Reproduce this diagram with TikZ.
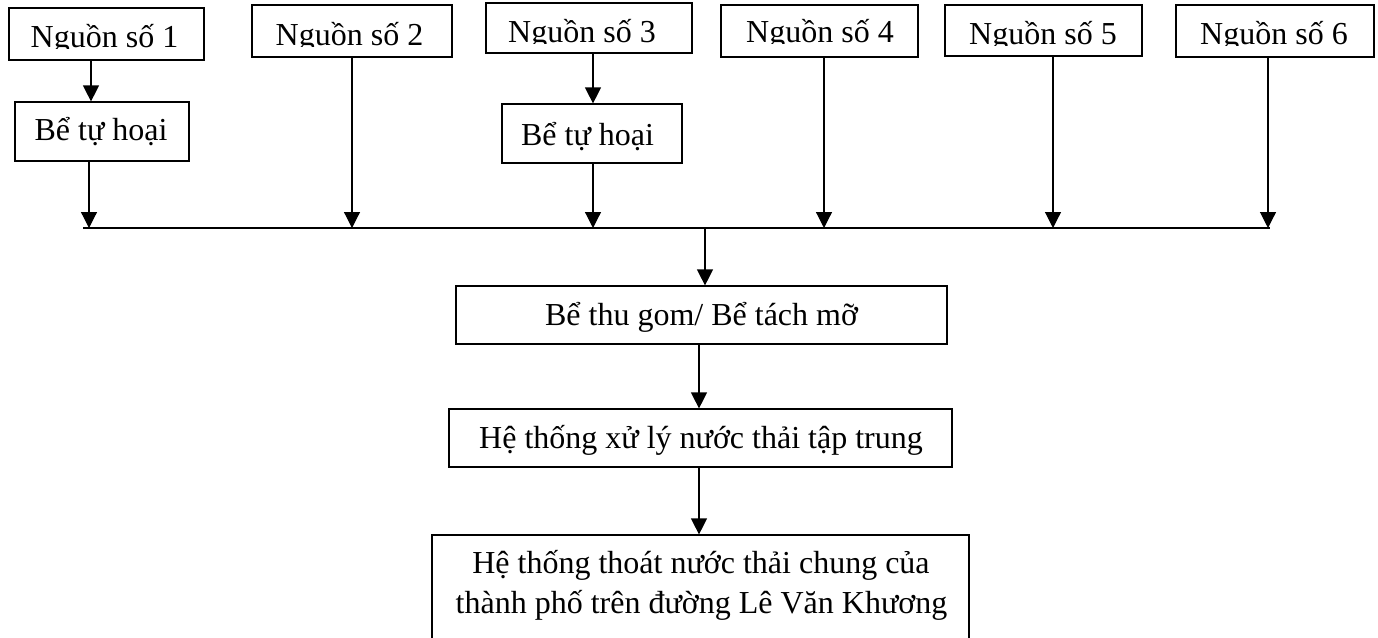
\documentclass[tikz,border=0pt]{standalone}
\usepackage{fontspec}
\setmainfont{Liberation Serif}
\usetikzlibrary{arrows.meta}
\begin{document}
\begin{tikzpicture}[x=1pt,y=-1pt,
  box/.style={draw, line width=1.2pt, inner sep=0pt},
  txt/.style={anchor=base, inner sep=0pt, font=\fontsize{32}{37}\selectfont},
  arr/.style={-{Triangle[width=16pt,length=16pt]}, line width=1.2pt},
  busline/.style={line width=1.2pt}]
\clip (0,0) rectangle (1378,637);
\fill[white] (0,0) rectangle (1378,637);

% boxes
\node[box, minimum width=195, minimum height=52] (n1) at (106.5,34) {};
\node[box, minimum width=200, minimum height=52] (n2) at (352,31) {};
\node[box, minimum width=206, minimum height=50] (n3) at (589,28) {};
\node[box, minimum width=197, minimum height=52] (n4) at (819.5,31) {};
\node[box, minimum width=197, minimum height=51] (n5) at (1043.5,30.5) {};
\node[box, minimum width=198, minimum height=52] (n6) at (1275,31) {};
\node[box, minimum width=174, minimum height=59] (t1) at (102,131.5) {};
\node[box, minimum width=180, minimum height=59] (t2) at (592,133.5) {};
\node[box, minimum width=491, minimum height=58] (tg) at (701.5,315) {};
\node[box, minimum width=503, minimum height=58] (ht) at (700.5,438) {};
\node[box, minimum width=537, minimum height=130] (out) at (700.5,600) {};

% source labels (clipped just below the baseline, as in the reference)
\begin{scope}\clip (9,0) rectangle (204,48.5);
  \node[txt] (n1t) at (104.5,47) {Nguồn số 1};\end{scope}
\begin{scope}\clip (252,0) rectangle (452,46.5);
  \node[txt] (n2t) at (349.5,45) {Nguồn số 2};\end{scope}
\begin{scope}\clip (486,0) rectangle (692,43.5);
  \node[txt] (n3t) at (582,42) {Nguồn số 3};\end{scope}
\begin{scope}\clip (721,0) rectangle (918,43.5);
  \node[txt] (n4t) at (820,42) {Nguồn số 4};\end{scope}
\begin{scope}\clip (945,0) rectangle (1142,45.5);
  \node[txt] (n5t) at (1043,44) {Nguồn số 5};\end{scope}
\begin{scope}\clip (1176,0) rectangle (1374,45.5);
  \node[txt] (n6t) at (1274,44) {Nguồn số 6};\end{scope}

\node[txt] (t1t) at (101,140) {Bể tự hoại};
\node[txt] (t2t) at (587.5,145) {Bể tự hoại};
\node[txt] (tgt) at (701.5,325) {Bể thu gom/ Bể tách mỡ};
\node[txt] (htt) at (701,448) {Hệ thống xử lý nước thải tập trung};
\node[txt] (o1) at (701,573) {Hệ thống thoát nước thải chung của};
\node[txt] (o2) at (701.5,613) {thành phố trên đường Lê Văn Khương};

% collector line
\coordinate (busL) at (83,228);
\coordinate (busR) at (1270,228);
\draw[busline] (busL) -- (busR);

% x positions of the connectors
\coordinate (x1) at (91,0);
\coordinate (x1b) at (89,0);
\coordinate (x2) at (352,0);
\coordinate (x3) at (593,0);
\coordinate (x4) at (824,0);
\coordinate (x5) at (1053,0);
\coordinate (x6) at (1268,0);
\coordinate (xs) at (705,0);
\coordinate (xh) at (699,0);

\draw[arr] (n1.south -| x1) -- (t1.north -| x1);
\draw[arr] (t1.south -| x1b) -- (busL -| x1b);
\draw[arr] (n2.south -| x2) -- (busL -| x2);
\draw[arr] (n3.south -| x3) -- (t2.north -| x3);
\draw[arr] (t2.south -| x3) -- (busL -| x3);
\draw[arr] (n4.south -| x4) -- (busL -| x4);
\draw[arr] (n5.south -| x5) -- (busL -| x5);
\draw[arr] (n6.south -| x6) -- (busL -| x6);
\draw[arr] (busL -| xs) -- (tg.north -| xs);
\draw[arr] (tg.south -| xh) -- (ht.north -| xh);
\draw[arr] (ht.south -| xh) -- (out.north -| xh);
\end{tikzpicture}
\end{document}
